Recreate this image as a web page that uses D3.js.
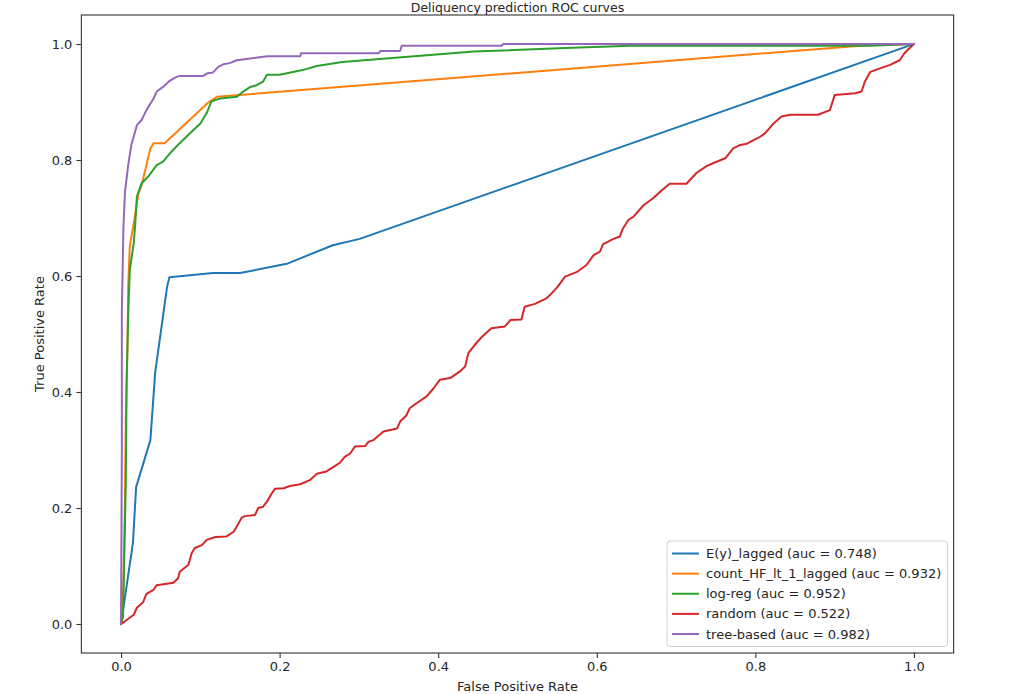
<!DOCTYPE html>
<html>
<head>
<meta charset="utf-8">
<script src="https://cdn.jsdelivr.net/npm/d3@7"></script>
<style>
  html, body { margin: 0; padding: 0; background: #fff; }
  svg { display: block; font-family: "DejaVu Sans", sans-serif; }
</style>
</head>
<body>
<svg id="chart" width="1014" height="694"></svg>
<script>
// ---- Data ----
const chartTitle = "Deliquency prediction ROC curves";
const xLabel = "False Positive Rate";
const yLabel = "True Positive Rate";
const xTicks = [0.0, 0.2, 0.4, 0.6, 0.8, 1.0];
const yTicks = [0.0, 0.2, 0.4, 0.6, 0.8, 1.0];

const seriesNames = [
  "E(y)_lagged (auc = 0.748)",
  "count_HF_lt_1_lagged (auc = 0.932)",
  "log-reg (auc = 0.952)",
  "random (auc = 0.522)",
  "tree-based (auc = 0.982)"
];
const seriesColors = ["#1f77b4", "#ff7f0e", "#2ca02c", "#d62728", "#9467bd"];

// [fpr, tpr] pairs
const eyLagged = [
  [0, 0], [0.015, 0.140], [0.019, 0.236], [0.037, 0.317], [0.043, 0.433],
  [0.051, 0.512], [0.058, 0.581], [0.061, 0.598], [0.116, 0.605], [0.150, 0.605],
  [0.209, 0.621], [0.267, 0.653], [0.301, 0.664], [1, 1]
];
const countHF = [
  [0, 0], [0.003, 0.071], [0.005, 0.219], [0.006, 0.352], [0.008, 0.472],
  [0.009, 0.582], [0.011, 0.651], [0.016, 0.691], [0.022, 0.743], [0.026, 0.757],
  [0.037, 0.820], [0.041, 0.829], [0.055, 0.829], [0.110, 0.899], [0.121, 0.909],
  [0.941, 0.998], [1, 1]
];
const logReg = [
  [0, 0], [0.0025, 0.012], [0.006, 0.243], [0.007, 0.416], [0.009, 0.530],
  [0.011, 0.610], [0.016, 0.657], [0.018, 0.691], [0.020, 0.737], [0.026, 0.760],
  [0.034, 0.771], [0.045, 0.791], [0.053, 0.797], [0.062, 0.812], [0.074, 0.829],
  [0.087, 0.846], [0.100, 0.863], [0.108, 0.881], [0.114, 0.901], [0.125, 0.906],
  [0.146, 0.909], [0.154, 0.918], [0.163, 0.926], [0.171, 0.929], [0.179, 0.935],
  [0.184, 0.947], [0.200, 0.947], [0.229, 0.955], [0.247, 0.962], [0.279, 0.969],
  [0.362, 0.978], [0.445, 0.987], [0.560, 0.993], [0.643, 0.997], [0.944, 0.997],
  [1, 1]
];
const randomModel = [
  [0, 0], [0.007, 0.007], [0.016, 0.016], [0.020, 0.028], [0.028, 0.038],
  [0.032, 0.052], [0.041, 0.059], [0.045, 0.067], [0.066, 0.071], [0.072, 0.079],
  [0.074, 0.090], [0.085, 0.102], [0.089, 0.122], [0.093, 0.131], [0.102, 0.136],
  [0.108, 0.145], [0.119, 0.150], [0.133, 0.151], [0.142, 0.159], [0.146, 0.168],
  [0.152, 0.183], [0.156, 0.186], [0.169, 0.188], [0.173, 0.200], [0.179, 0.202],
  [0.184, 0.211], [0.190, 0.225], [0.194, 0.233], [0.205, 0.234], [0.213, 0.238],
  [0.226, 0.241], [0.238, 0.248], [0.247, 0.259], [0.259, 0.263], [0.268, 0.271],
  [0.276, 0.278], [0.282, 0.288], [0.289, 0.294], [0.295, 0.306], [0.308, 0.307],
  [0.312, 0.314], [0.318, 0.317], [0.331, 0.332], [0.348, 0.337], [0.352, 0.349],
  [0.360, 0.360], [0.364, 0.372], [0.373, 0.381], [0.385, 0.392], [0.394, 0.406],
  [0.402, 0.421], [0.415, 0.424], [0.427, 0.435], [0.434, 0.444], [0.438, 0.467],
  [0.446, 0.481], [0.455, 0.495], [0.467, 0.510], [0.484, 0.513], [0.491, 0.524],
  [0.505, 0.525], [0.509, 0.547], [0.522, 0.552], [0.537, 0.562], [0.543, 0.570],
  [0.551, 0.582], [0.560, 0.599], [0.575, 0.607], [0.587, 0.619], [0.596, 0.636],
  [0.604, 0.642], [0.608, 0.655], [0.621, 0.664], [0.629, 0.668], [0.633, 0.682],
  [0.640, 0.697], [0.646, 0.702], [0.659, 0.722], [0.671, 0.734], [0.682, 0.748],
  [0.692, 0.759], [0.713, 0.759], [0.726, 0.778], [0.739, 0.790], [0.751, 0.797],
  [0.762, 0.803], [0.772, 0.820], [0.781, 0.826], [0.789, 0.828], [0.797, 0.834],
  [0.806, 0.840], [0.812, 0.846], [0.823, 0.863], [0.833, 0.875], [0.844, 0.878],
  [0.879, 0.878], [0.894, 0.886], [0.900, 0.912], [0.926, 0.915], [0.934, 0.918],
  [0.938, 0.935], [0.945, 0.952], [0.957, 0.958], [0.970, 0.964], [0.982, 0.972],
  [0.988, 0.984], [0.993, 0.991], [1, 1]
];
const treeBased = [
  [0, 0], [0.001, 0.300], [0.001, 0.536], [0.003, 0.685], [0.005, 0.745],
  [0.009, 0.791], [0.013, 0.826], [0.020, 0.860], [0.026, 0.869], [0.032, 0.886],
  [0.041, 0.906], [0.045, 0.918], [0.053, 0.926], [0.060, 0.935], [0.068, 0.942],
  [0.074, 0.945], [0.104, 0.945], [0.108, 0.949], [0.116, 0.951], [0.123, 0.961],
  [0.129, 0.965], [0.137, 0.967], [0.146, 0.972], [0.163, 0.975], [0.184, 0.979],
  [0.226, 0.979], [0.227, 0.984], [0.325, 0.984], [0.327, 0.988], [0.352, 0.988],
  [0.354, 0.997], [0.480, 0.997], [0.482, 1.0], [1, 1]
];
const seriesData = [eyLagged, countHF, logReg, randomModel, treeBased];

// ---- Layout ----
const svg = d3.select("#chart");
const W = 1014, H = 694;
const plot = { left: 81.4, right: 953.6, top: 15, bottom: 653 };
const textColor = "#262626";

const x = d3.scaleLinear().domain([-0.05, 1.05]).range([plot.left, plot.right]);
const y = d3.scaleLinear().domain([-0.05, 1.05]).range([plot.bottom, plot.top]);

svg.append("rect").attr("width", W).attr("height", H).attr("fill", "#fff");

// clip
svg.append("clipPath").attr("id", "clip")
  .append("rect").attr("x", plot.left).attr("y", plot.top)
  .attr("width", plot.right - plot.left).attr("height", plot.bottom - plot.top);

// lines
const line = d3.line().x(d => x(d[0])).y(d => y(d[1]));
svg.append("g").attr("clip-path", "url(#clip)")
  .selectAll("path").data(seriesData).join("path")
  .attr("d", line)
  .attr("fill", "none")
  .attr("stroke", (d, i) => seriesColors[i])
  .attr("stroke-width", 2)
  .attr("stroke-linejoin", "round")
  .attr("stroke-linecap", "square");

// axes
const xAxis = d3.axisBottom(x).tickValues(xTicks).tickFormat(d3.format(".1f")).tickSize(5).tickPadding(4);
const yAxis = d3.axisLeft(y).tickValues(yTicks).tickFormat(d3.format(".1f")).tickSize(5).tickPadding(4);

const gx = svg.append("g").attr("transform", `translate(0,${plot.bottom})`).call(xAxis);
const gy = svg.append("g").attr("transform", `translate(${plot.left},0)`).call(yAxis);
[gx, gy].forEach(g => {
  g.select(".domain").remove();
  g.selectAll(".tick line").attr("stroke", "#333").attr("stroke-width", 1.1);
  g.selectAll(".tick text").attr("fill", textColor)
    .style("font-family", "DejaVu Sans, sans-serif").style("font-size", "13px");
});

// spines
svg.append("rect")
  .attr("x", plot.left).attr("y", plot.top)
  .attr("width", plot.right - plot.left).attr("height", plot.bottom - plot.top)
  .attr("fill", "none").attr("stroke", "#444").attr("stroke-width", 1.2);

// title & labels
svg.append("text").attr("x", (plot.left + plot.right) / 2).attr("y", 12)
  .attr("text-anchor", "middle").attr("fill", textColor)
  .style("font-size", "12.5px").text(chartTitle);
svg.append("text").attr("x", (plot.left + plot.right) / 2).attr("y", 691)
  .attr("text-anchor", "middle").attr("fill", textColor)
  .style("font-size", "13px").text(xLabel);
svg.append("text")
  .attr("transform", `translate(44,${(plot.top + plot.bottom) / 2}) rotate(-90)`)
  .attr("text-anchor", "middle").attr("fill", textColor)
  .style("font-size", "13px").text(yLabel);

// legend
const lg = { left: 667, top: 541, right: 947.5, bottom: 646.5 };
const legend = svg.append("g");
legend.append("rect")
  .attr("x", lg.left).attr("y", lg.top)
  .attr("width", lg.right - lg.left).attr("height", lg.bottom - lg.top)
  .attr("rx", 3).attr("fill", "#fff").attr("fill-opacity", 0.85)
  .attr("stroke", "#d0d0d0").attr("stroke-width", 1);
const rowY = d3.scaleLinear().domain([0, seriesNames.length - 1]).range([lg.top + 12.5, lg.bottom - 12.5]);
const rows = legend.selectAll("g.row").data(seriesNames).join("g").attr("class", "row")
  .attr("transform", (d, i) => `translate(0,${rowY(i)})`);
rows.append("line").attr("x1", 672).attr("x2", 699).attr("y1", 0).attr("y2", 0)
  .attr("stroke", (d, i) => seriesColors[i]).attr("stroke-width", 2);
rows.append("text").attr("x", 706).attr("y", 0).attr("dy", "0.35em")
  .attr("fill", textColor).style("font-size", "13px").text(d => d);
</script>
</body>
</html>
